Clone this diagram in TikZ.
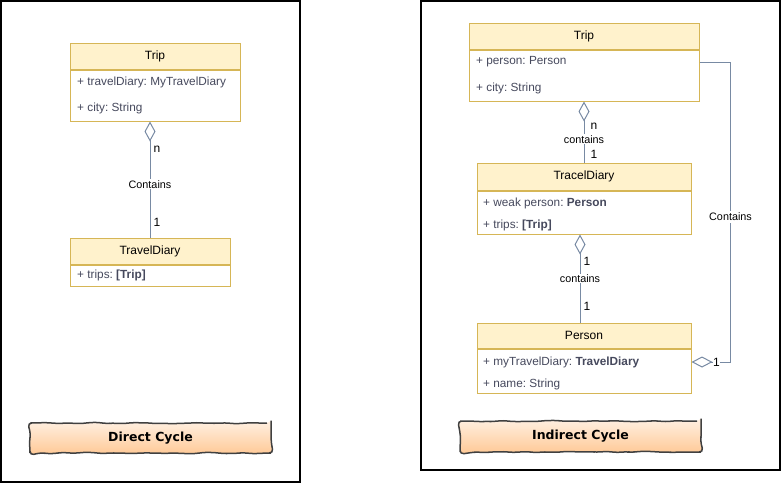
\documentclass[tikz,border=0pt]{standalone}
\usepackage{fontspec}
\setmainfont{Liberation Sans}
\newfontfamily\btnfont{DejaVu Sans}
\frenchspacing
\usetikzlibrary{arrows.meta,positioning,calc,decorations.pathmorphing}
\definecolor{headfill}{HTML}{FFF2CC}
\definecolor{headline}{HTML}{D6B656}
\definecolor{assocline}{HTML}{788AA3}
\definecolor{attrtext}{HTML}{46495D}
\definecolor{btntop}{HTML}{FFF0E2}
\definecolor{btnbottom}{HTML}{FFC894}
\tikzset{
	classhead/.style={draw=headline, fill=headfill, line width=1pt, inner sep=0pt, minimum height=26pt, font=\fontsize{12}{14}\selectfont},
	classbody/.style={draw=headline, fill=white, line width=1pt, inner sep=0pt, below=0pt of #1},
	attr/.style={anchor=west, inner sep=0pt, text=attrtext, font=\fontsize{11.8}{14}\selectfont},
	assoc/.style={draw=assocline, line width=1pt},
	agg/.style={{Diamond[open, length=20pt, width=11pt, line width=1pt]}-},
	mult/.style={inner sep=1pt, font=\fontsize{12}{14}\selectfont},
	rolename/.style={fill=white, inner sep=1pt, font=\fontsize{10.8}{13}\selectfont},
	frame/.style={draw=black, line width=1.4pt},
	cyclebtn/.style={draw=black!75, line width=1.5pt, top color=btntop, bottom color=btnbottom, rounded corners=4pt,
		decorate, decoration={random steps, segment length=7pt, amplitude=0.7pt},
		minimum width=241pt, inner sep=0pt, font=\btnfont\bfseries\fontsize{12.5}{14}\selectfont}
}

\begin{document}
\begin{tikzpicture}[x=1pt, y=-1pt]
			%%%%% START %%%%%
			\pgfmathsetseed{7}
			\useasboundingbox (0, 0) rectangle (781, 483);
			
			\draw[frame] (1, 1) rectangle (300, 482);
			\draw[frame] (421, 1) rectangle (780, 470);
			
			% direct cycle
			\node[classhead, minimum width=170pt] (trip1) at (155, 56) {Trip};
			\node[classbody=trip1, minimum width=170pt, minimum height=51pt] (trip1b) {};
			\node[attr] (trip1p) at (77, 82) {+ travelDiary: MyTravelDiary};
			\node[attr] (trip1c) at (77, 108) {+ city: String};
			
			\node[classhead, minimum width=160pt] (diary1) at (150, 251) {TravelDiary};
			\node[classbody=diary1, minimum width=160pt, minimum height=21pt] (diary1b) {};
			\node[attr] (diary1t) at (77, 275) {+ trips: \textbf{[Trip]}};
			
			\draw[assoc, agg] (diary1.north |- trip1b.south) -- (diary1.north)
				node[mult, pos=0.24, anchor=west, xshift=2pt] {n}
				node[rolename, pos=0.54] {Contains}
				node[mult, pos=0.87, anchor=west, xshift=2pt] {1};
			
			\node[cyclebtn, minimum height=30pt] (direct) at (150.5, 438) {Direct Cycle};
			
			% indirect cycle
			\node[classhead, minimum width=230pt] (trip2) at (584, 36) {Trip};
			\node[classbody=trip2, minimum width=230pt, minimum height=51pt] (trip2b) {};
			\node[attr] (trip2p) at (476, 62) {+ person: Person};
			\node[attr] (trip2c) at (476, 88) {+ city: String};
			
			\node[classhead, minimum width=214pt, minimum height=27pt] (diary2) at (584, 176.5) {TracelDiary};
			\node[classbody=diary2, minimum width=214pt, minimum height=43pt] (diary2b) {};
			\node[attr] (diary2w) at (483, 203) {+ weak person: \textbf{Person}};
			\node[attr] (diary2t) at (483, 225) {+ trips: \textbf{[Trip]}};
			
			\node[classhead, minimum width=214pt, minimum height=25pt] (person2) at (584, 335.5) {Person};
			\node[classbody=person2, minimum width=214pt, minimum height=44pt] (person2b) {};
			\node[attr] (person2m) at (483, 362) {+ myTravelDiary: \textbf{TravelDiary}};
			\node[attr] (person2n) at (483, 384) {+ name: String};
			
			\draw[assoc, agg] (trip2b.south) -- (diary2.north)
				node[mult, pos=0.41, anchor=west, xshift=5pt] {n}
				node[rolename, pos=0.62] {contains}
				node[mult, pos=0.86, anchor=west, xshift=5pt] {1};
			
			\draw[assoc, agg] ($(diary2b.south)+(-4, 0)$) -- ($(person2.north)+(-4, 0)$)
				node[mult, pos=0.31, anchor=west, xshift=2pt] {1}
				node[rolename, pos=0.5] {contains}
				node[mult, pos=0.82, anchor=west, xshift=2pt] {1};
			
			\draw[assoc, -{Diamond[open, length=21pt, width=11pt, line width=1pt]}] (trip2b.east |- trip2p) -- ++(31, 0)
				node[rolename, pos=1, yshift=-155pt, inner sep=2pt] {Contains}
				|- (person2b.east |- person2m)
				node[mult, pos=0.68, fill=white, inner sep=0.5pt] {1};
			
			\node[cyclebtn, minimum height=31pt] (indirect) at (580.5, 436.5) {Indirect Cycle};
			
			%%%%% END %%%%%
\end{tikzpicture}
\end{document}
